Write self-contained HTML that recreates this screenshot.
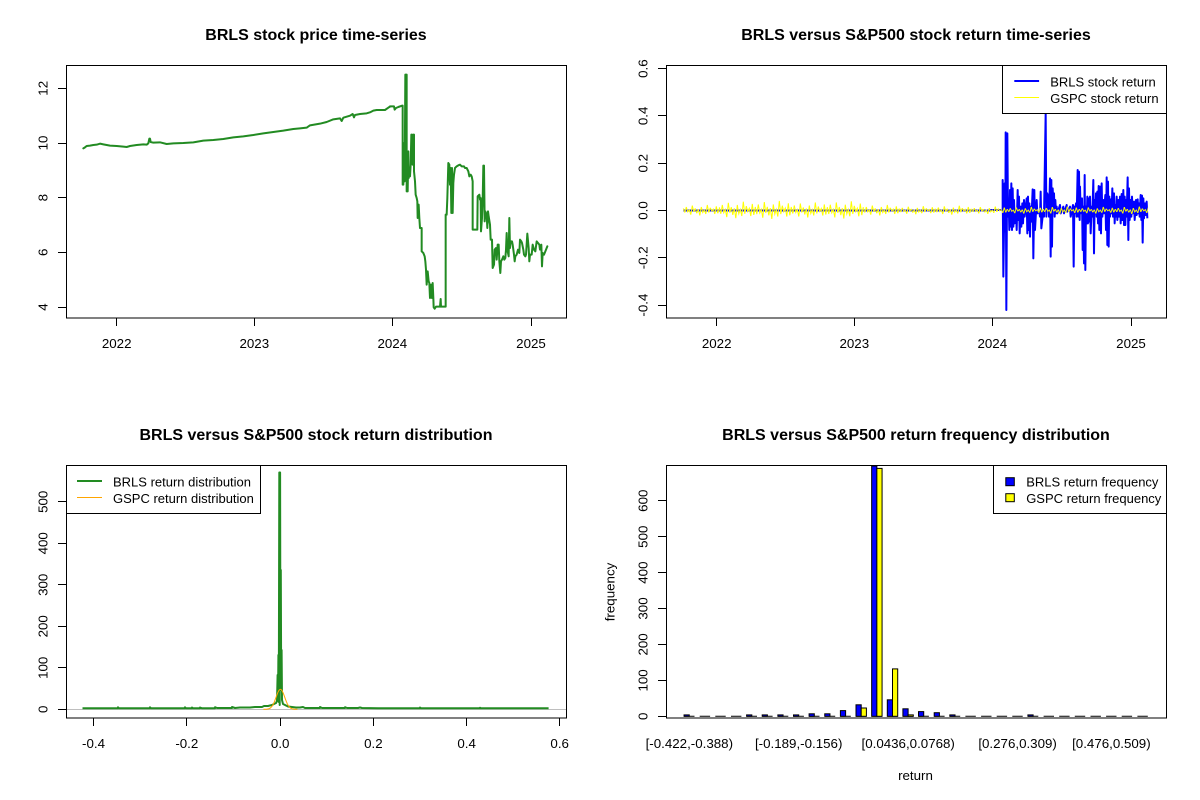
<!DOCTYPE html>
<html>
<head>
<meta charset="utf-8">
<style>
html,body{margin:0;padding:0;background:#fff;}
svg{display:block;}
</style>
</head>
<body>
<svg width="1200" height="800" viewBox="0 0 1200 800" xmlns="http://www.w3.org/2000/svg" font-family="'Liberation Sans', Arial, sans-serif" font-size="13.33">
<defs>
  <path id="yc" d="M0,-3 L1.5,3 L3,-5 L4.5,2 L6,-1 L7.5,6 L9,-7 L10.5,2 L12,-3 L13.5,4 L15,-2 L16.5,7 L18,-5 L19.5,3 L21,-1 L22.5,5 L24,-8 L25.5,3 L27,-4 L28.5,1 L30,-2 L31.5,5 L33,-6 L34.5,4 L36,-3"/>
  <clipPath id="cy"><rect x="660" y="60" width="488" height="260"/></clipPath>
</defs>
<rect width="1200" height="800" fill="#fff"/>

<!-- ================= Panel 1 ================= -->
<text x="316" y="40" font-weight="bold" font-size="16" text-anchor="middle">BRLS stock price time-series</text>
<g fill="none" stroke="#228B22" stroke-width="2" stroke-linejoin="round" stroke-linecap="round">
<path vector-effect="non-scaling-stroke" transform="translate(60,60) scale(0.33333)" d="M70,265 L75,262 L80,258 L90,257 L100,255 L110,254 L120,251 L130,253 L140,255 L150,257 L170,258 L190,260 L200,261 L210,258 L230,255 L250,253 L260,254 L265,250 L268,236 L270,236 L272,246 L280,248 L300,247 L320,252 L340,250 L370,249 L400,247 L430,242 L460,240 L490,237 L520,232 L550,229 L580,225 L610,220 L640,216 L670,212 L700,207 L720,205 L740,203 L750,196 L780,191 L800,186 L820,178 L840,175 L845,183 L850,173 L870,167 L878,162 L882,172 L885,165 L900,162 L920,160 L930,157 L940,152 L950,150 L975,150 L985,143 L990,140"/>
<path vector-effect="non-scaling-stroke" transform="translate(390,68) scale(0.33333)" d="M0,115 L12,115 L14,125 L18,120 L25,117 L36,113 L38,113 L38,350 L40,350 L42,225 L44,340 L46,20 L50,20 L50,370 L53,370 L55,250 L56,330 L58,320 L60,325 L62,290 L64,200 L66,200 L68,290 L70,200 L72,200 L72,310 L75,340 L77,380 L80,390 L82,400 L83,450 L86,410 L88,450 L90,480 L95,480 L95,550 L100,555 L104,565 L106,580 L108,605 L110,650 L113,610 L116,640 L118,645 L120,690 L123,650 L126,690 L128,645 L130,690 L131,718 L134,722 L138,716 L150,716 L152,693 L153,716 L167,716 L167,440 L170,440 L172,390 L175,285 L178,290 L180,350 L182,300 L184,435 L186,300 L188,435 L190,345 L192,320 L195,300 L200,295 L205,292 L210,290 L215,295 L222,295 L225,300 L230,300 L235,310 L238,325 L242,320 L245,325 L248,340 L248,485 L262,485 L263,385 L268,380 L270,395 L272,390 L273,490 L276,450 L278,400 L280,293 L282,293 L284,460 L286,430 L290,440 L292,480 L294,430 L296,445 L300,470 L302,515 L306,515 L308,600 L312,590 L314,545 L318,540 L320,575 L323,530 L326,530 L328,580 L331,615 L333,580 L336,575 L340,565 L343,575 L346,570 L348,545 L350,495 L352,545 L356,565 L358,450 L360,540 L362,520 L366,520 L368,530 L372,560 L374,580 L376,565 L380,560 L384,545 L388,555 L390,515 L394,520 L396,525 L400,545 L402,560 L406,565 L408,560 L412,497 L416,540 L418,580 L420,560 L425,560 L428,530 L432,545 L436,550 L440,520 L444,525 L448,530 L450,545 L454,530 L456,595 L458,555 L462,560 L466,550 L470,540 L472,535"/>
</g>
<g fill="none" stroke="#000" stroke-width="1" shape-rendering="crispEdges">
<rect x="66.5" y="65.5" width="500" height="252.5"/>
<path d="M58,307.5H66M58,252.5H66M58,197.5H66M58,143.5H66M58,88.5H66M116.5,318V326M254.5,318V326M392.5,318V326M531.5,318V326"/>
</g>
<g text-anchor="middle">
<text x="116.7" y="348">2022</text>
<text x="254.3" y="348">2023</text>
<text x="392.3" y="348">2024</text>
<text x="531" y="348">2025</text>
<text transform="translate(47.5,307) rotate(-90)">4</text>
<text transform="translate(47.5,252.3) rotate(-90)">6</text>
<text transform="translate(47.5,197.7) rotate(-90)">8</text>
<text transform="translate(47.5,143) rotate(-90)">10</text>
<text transform="translate(47.5,88.3) rotate(-90)">12</text>
</g>

<!-- ================= Panel 2 ================= -->
<text x="916" y="40" font-weight="bold" font-size="16" text-anchor="middle">BRLS versus S&amp;P500 stock return time-series</text>
<g fill="none" stroke="#0000FF" stroke-width="2" stroke-linejoin="round">
<path d="M683.3,210.5 H990"/>
<path vector-effect="non-scaling-stroke" transform="translate(990,100) scale(0.33333)" d="M0,330 L38,330 L38,240 L40,530 L44,250 L46,395 L47,97 L49,630 L52,100 L54,350 L56,300 L58,390 L60,270 L62,380 L64,250 L66,390 L68,265 L70,380 L72,300 L74,370 L78,330 L80,390 L83,270 L85,360 L87,290 L89,400 L92,320 L94,380 L97,310 L99,370 L102,300 L104,350 L110,295 L112,400 L114,290 L116,390 L118,310 L120,410 L122,320 L124,365 L128,268 L130,475 L133,270 L135,390 L140,300 L142,340 L148,335 L150,350 L152,275 L154,385 L160,330 L162,350 L167,40 L169,350 L172,280 L174,310 L175,285 L177,350 L180,235 L182,470 L184,240 L186,440 L188,265 L190,310 L192,280 L194,350 L196,300 L198,340 L200,320 L202,340 L210,315 L212,340 L220,320 L222,340 L230,315 L232,335 L240,320 L242,350 L249,315 L251,500 L253,320 L255,340 L258,310 L260,350 L263,210 L265,350 L267,215 L269,360 L270,260 L272,340 L276,295 L278,450 L280,320 L282,490 L284,225 L286,510 L288,320 L290,370 L292,290 L294,370 L296,295 L298,365 L300,290 L302,400 L305,320 L307,350 L310,240 L312,460 L314,300 L316,340 L318,280 L320,350 L322,275 L324,370 L326,258 L328,390 L331,260 L333,400 L335,250 L337,350 L340,300 L342,340 L346,285 L348,390 L350,232 L352,435 L354,245 L356,440 L358,290 L360,350 L363,298 L365,340 L367,265 L369,350 L372,280 L374,370 L376,315 L378,350 L380,290 L382,360 L385,300 L387,350 L390,290 L392,370 L395,282 L397,360 L400,270 L402,375 L404,290 L406,375 L408,300 L410,350 L413,232 L415,420 L417,265 L419,360 L422,300 L424,350 L426,290 L428,340 L432,305 L434,360 L438,300 L440,345 L443,298 L445,340 L447,310 L449,350 L452,285 L454,360 L456,287 L458,428 L460,295 L462,355 L465,310 L467,345 L470,305 L472,355"/>
</g>
<g fill="none" stroke="#FFFF00" stroke-width="1" clip-path="url(#cy)">
<use href="#yc" transform="translate(683.3,210.5) scale(1,0.7)"/>
<use href="#yc" transform="translate(719.3,210.5) scale(1,1.1)"/>
<use href="#yc" transform="translate(755.3,210.5) scale(1,1.2)"/>
<use href="#yc" transform="translate(791.3,210.5) scale(1,1.0)"/>
<use href="#yc" transform="translate(827.3,210.5) scale(1,1.15)"/>
<use href="#yc" transform="translate(863.3,210.5) scale(1,0.7)"/>
<use href="#yc" transform="translate(899.3,210.5) scale(1,0.55)"/>
<use href="#yc" transform="translate(935.3,210.5) scale(1,0.6)"/>
<use href="#yc" transform="translate(971.3,210.5) scale(1,0.5)"/>
<use href="#yc" transform="translate(1007.3,210.5) scale(1,0.45)"/>
<use href="#yc" transform="translate(1043.3,210.5) scale(1,0.5)"/>
<use href="#yc" transform="translate(1079.3,210.5) scale(1,0.45)"/>
<use href="#yc" transform="translate(1115.3,210.5) scale(1,0.5)"/>
</g>
<!-- legend -->
<rect x="1002.5" y="65.5" width="164" height="48" fill="#fff" stroke="#000" stroke-width="1" shape-rendering="crispEdges"/>
<path d="M1014.3,81 H1039.1" stroke="#0000FF" stroke-width="2"/>
<path d="M1014.3,97.5 H1039.1" stroke="#FFFF00" stroke-width="1"/>
<text x="1050.2" y="86.5" font-size="13">BRLS stock return</text>
<text x="1050.2" y="103" font-size="13">GSPC stock return</text>
<g fill="none" stroke="#000" stroke-width="1" shape-rendering="crispEdges">
<rect x="666.5" y="65.5" width="500" height="252.5"/>
<path d="M658,305.5H666M658,257.5H666M658,210.5H666M658,163.5H666M658,115.5H666M658,68.5H666M716.5,318V326M854.5,318V326M992.5,318V326M1131.5,318V326"/>
</g>
<g text-anchor="middle">
<text x="716.7" y="348">2022</text>
<text x="854.3" y="348">2023</text>
<text x="992.3" y="348">2024</text>
<text x="1131" y="348">2025</text>
<text transform="translate(647.5,305.1) rotate(-90)">-0.4</text>
<text transform="translate(647.5,257.8) rotate(-90)">-0.2</text>
<text transform="translate(647.5,210.5) rotate(-90)">0.0</text>
<text transform="translate(647.5,163.2) rotate(-90)">0.2</text>
<text transform="translate(647.5,115.9) rotate(-90)">0.4</text>
<text transform="translate(647.5,68.6) rotate(-90)">0.6</text>
</g>

<!-- ================= Panel 3 ================= -->
<text x="316" y="440" font-weight="bold" font-size="16" text-anchor="middle">BRLS versus S&amp;P500 stock return distribution</text>
<path d="M66,709.5 H566" stroke="#BEBEBE" stroke-width="1" shape-rendering="crispEdges"/>
<path fill="none" stroke="#228B22" stroke-width="2" stroke-linejoin="round" d="M82.5,708.3 L118,708.3 L118,707.3 L119,708.3 L150,708.3 L150,707.3 L151,708.3 L185,708.3 L185,707.3 L186,708.3 L192,708.3 L192,707.5 L193,708.3 L200,708.3 L200,707.5 L202,708.3 L215,708.3 L215,707.2 L217,708 L232,708 L232,707 L235,708 L240,707.5 L250,707.5 L255,707 L262,707 L264,706 L268,706 L270,705.5 L272,705 L274,704 L276,703 L277,701 L277.6,675 L278,700 L278.4,655 L278.8,702 L279.3,472.5 L279.7,705 L280.1,472.5 L280.4,660 L280.8,570 L281.2,690 L281.6,650 L282,700 L283,704 L285,705 L288,706.5 L292,707 L296,707.5 L300,707.5 L303,707 L305,708 L320,708 L320,707 L322,708 L345,708 L345,707.2 L347,708 L358,708 L360,707.5 L362,708 L378,708.3 L400,708.3 L420,708.3 L420,707.5 L421,708.3 L480,708.3 L480,707.8 L481,708.3 L548.6,708.3"/>
<path fill="none" stroke="#FFA500" stroke-width="1" stroke-linejoin="round" d="M263.4,709.3 L266.4,709.2 L268.4,708.9 L270.4,708 L272.4,705.8 L273.4,704 L274.4,701.7 L275.4,699.1 L276.4,696.3 L277.4,693.6 L278.4,691.3 L279.4,689.8 L280.4,689.3 L281.4,689.8 L282.4,691.3 L283.4,693.6 L284.4,696.3 L285.4,699.1 L286.4,701.7 L287.4,704 L288.4,705.8 L290.4,708 L292.4,708.9 L294.4,709.2 L297.4,709.3"/>
<!-- legend -->
<rect x="66.5" y="465.5" width="194" height="48" fill="#fff" stroke="#000" stroke-width="1" shape-rendering="crispEdges"/>
<path d="M77,481 H102" stroke="#228B22" stroke-width="2"/>
<path d="M77,497.5 H102" stroke="#FFA500" stroke-width="1"/>
<text x="113" y="486.5" font-size="13">BRLS return distribution</text>
<text x="113" y="503" font-size="13">GSPC return distribution</text>
<g fill="none" stroke="#000" stroke-width="1" shape-rendering="crispEdges">
<rect x="66.5" y="465.5" width="500" height="252.5"/>
<path d="M58,709.5H66M58,667.5H66M58,626.5H66M58,584.5H66M58,543.5H66M58,501.5H66M93.5,718V726M186.5,718V726M280.5,718V726M373.5,718V726M466.5,718V726M559.5,718V726"/>
</g>
<g text-anchor="middle">
<text x="93.5" y="748">-0.4</text>
<text x="186.8" y="748">-0.2</text>
<text x="280.2" y="748">0.0</text>
<text x="373.4" y="748">0.2</text>
<text x="466.6" y="748">0.4</text>
<text x="559.7" y="748">0.6</text>
<text transform="translate(47.5,709.3) rotate(-90)">0</text>
<text transform="translate(47.5,667.8) rotate(-90)">100</text>
<text transform="translate(47.5,626.3) rotate(-90)">200</text>
<text transform="translate(47.5,584.8) rotate(-90)">300</text>
<text transform="translate(47.5,543.3) rotate(-90)">400</text>
<text transform="translate(47.5,501.8) rotate(-90)">500</text>
</g>

<!-- ================= Panel 4 ================= -->
<text x="916" y="440" font-weight="bold" font-size="16" text-anchor="middle">BRLS versus S&amp;P500 return frequency distribution</text>
<path stroke="#000" stroke-width="1" fill="none" d="M684.05,716.3H694.5 M699.7,716.3H710.1 M715.3,716.3H725.7 M731,716.3H741.4 M746.6,716.3H757 M762.2,716.3H772.6 M777.9,716.3H788.3 M793.5,716.3H803.9 M809.1,716.3H819.5 M824.8,716.3H835.2 M840.4,716.3H850.8 M856,716.3H866.4 M871.7,716.3H882.1 M887.3,716.3H897.7 M902.9,716.3H913.3 M918.5,716.3H928.9 M934.2,716.3H944.6 M949.8,716.3H960.2 M965.4,716.3H975.8 M981.1,716.3H991.5 M996.7,716.3H1007.1 M1012.3,716.3H1022.7 M1027.9,716.3H1038.3 M1043.6,716.3H1054 M1059.2,716.3H1069.6 M1074.8,716.3H1085.2 M1090.5,716.3H1100.9 M1106.1,716.3H1116.5 M1121.7,716.3H1132.1 M1137.4,716.3H1147.8"/>
<g stroke="#000" stroke-width="1">
<rect x="684.05" y="714.9" width="5.21" height="1.4" fill="#0000FF"/>
<rect x="746.6" y="714.9" width="5.21" height="1.4" fill="#0000FF"/>
<rect x="762.2" y="714.9" width="5.21" height="1.4" fill="#0000FF"/>
<rect x="777.85" y="714.9" width="5.21" height="1.4" fill="#0000FF"/>
<rect x="793.5" y="714.9" width="5.21" height="1.4" fill="#0000FF"/>
<rect x="809.1" y="713.8" width="5.21" height="2.5" fill="#0000FF"/>
<rect x="824.75" y="713.8" width="5.21" height="2.5" fill="#0000FF"/>
<rect x="840.4" y="710.6" width="5.21" height="5.7" fill="#0000FF"/>
<rect x="856.0" y="704.8" width="5.21" height="11.5" fill="#0000FF"/>
<rect x="861.2" y="708.0" width="5.21" height="8.3" fill="#FFFF00"/>
<rect x="871.65" y="466" width="5.21" height="250.3" fill="#0000FF"/>
<rect x="876.86" y="468.4" width="5.21" height="247.9" fill="#FFFF00"/>
<rect x="887.3" y="699.8" width="5.21" height="16.5" fill="#0000FF"/>
<rect x="892.5" y="668.9" width="5.21" height="47.4" fill="#FFFF00"/>
<rect x="902.9" y="708.8" width="5.21" height="7.5" fill="#0000FF"/>
<rect x="908.1" y="714.9" width="5.21" height="1.4" fill="#FFFF00"/>
<rect x="918.5" y="711.6" width="5.21" height="4.7" fill="#0000FF"/>
<rect x="934.2" y="712.7" width="5.21" height="3.6" fill="#0000FF"/>
<rect x="949.8" y="714.9" width="5.21" height="1.4" fill="#0000FF"/>
<rect x="1027.9" y="714.9" width="5.21" height="1.4" fill="#0000FF"/>
</g>
<!-- legend -->
<rect x="993.5" y="465.5" width="173" height="48" fill="#fff" stroke="#000" stroke-width="1" shape-rendering="crispEdges"/>
<rect x="1005.8" y="477.7" width="8.5" height="8" fill="#0000FF" stroke="#000" stroke-width="1"/>
<rect x="1005.8" y="493.7" width="8.5" height="8" fill="#FFFF00" stroke="#000" stroke-width="1"/>
<text x="1026.2" y="486.5" font-size="13">BRLS return frequency</text>
<text x="1026.2" y="503" font-size="13">GSPC return frequency</text>
<g fill="none" stroke="#000" stroke-width="1" shape-rendering="crispEdges">
<rect x="666.5" y="465.5" width="500" height="252.5"/>
<path d="M658,716.5H666M658,680.5H666M658,644.5H666M658,608.5H666M658,572.5H666M658,536.5H666M658,500.5H666"/>
</g>
<g text-anchor="middle">
<text x="689.3" y="748">[-0.422,-0.388)</text>
<text x="798.7" y="748">[-0.189,-0.156)</text>
<text x="908.2" y="748">[0.0436,0.0768)</text>
<text x="1017.6" y="748">[0.276,0.309)</text>
<text x="1111.4" y="748">[0.476,0.509)</text>
<text x="915.5" y="780">return</text>
<text transform="translate(614.5,592) rotate(-90)">frequency</text>
<text transform="translate(647.5,716.3) rotate(-90)">0</text>
<text transform="translate(647.5,680.4) rotate(-90)">100</text>
<text transform="translate(647.5,644.4) rotate(-90)">200</text>
<text transform="translate(647.5,608.5) rotate(-90)">300</text>
<text transform="translate(647.5,572.6) rotate(-90)">400</text>
<text transform="translate(647.5,536.7) rotate(-90)">500</text>
<text transform="translate(647.5,500.7) rotate(-90)">600</text>
</g>
</svg>
</body>
</html>
